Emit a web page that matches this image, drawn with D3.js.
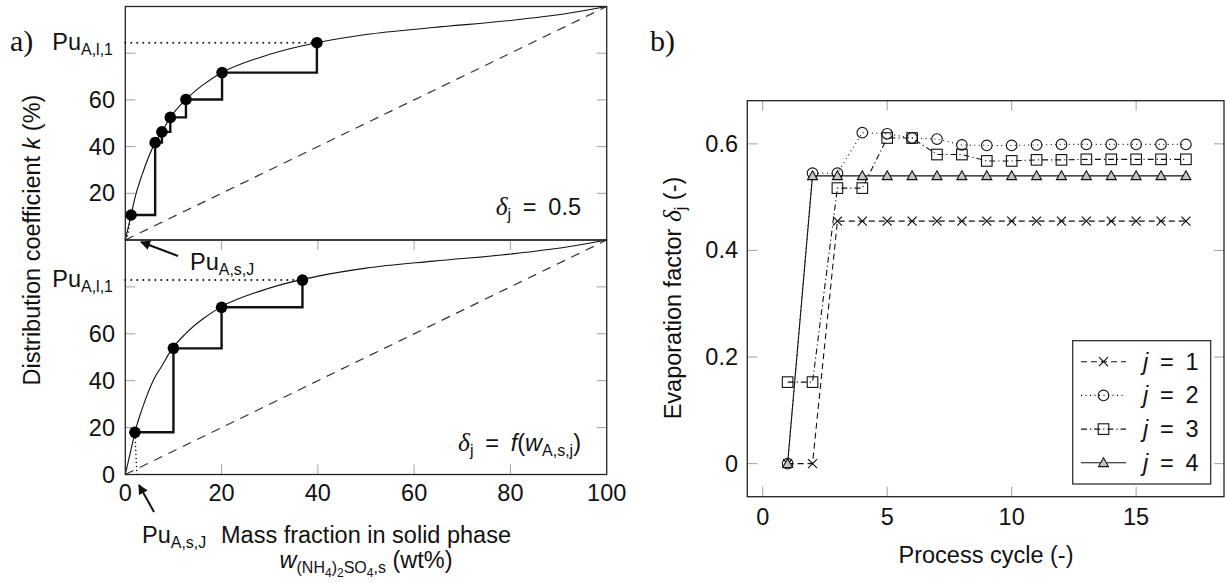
<!DOCTYPE html>
<html>
<head>
<meta charset="utf-8">
<script src="https://cdn.jsdelivr.net/npm/d3@7"></script>
<style>
  body { margin: 0; background: #fff; }
  text { font-family: "Liberation Sans", Arial, sans-serif; fill: #111; white-space: pre; }
</style>
</head>
<body>
<svg id="chart" width="1225" height="582"></svg>
<script>
// ── Data: panel a (McCabe-Thiele style stages) ────────────────────────────
const wTicks      = [0, 20, 40, 60, 80, 100];
const kTickMarks  = [20, 40, 60, 80];
const kLabelsTop  = [20, 40, 60];
const kLabelsBot  = [0, 20, 40, 60];

// equilibrium curve (solid phase wt% vs distribution coefficient %)
const eqW = [0, 1.2, 2, 3.5, 6.2, 7.6, 9.35, 12.6, 16, 20.1, 28, 36.8, 39.8, 50, 64, 80, 91.7, 100];
const eqK = [0, 10.7, 18, 28, 41.7, 46.3, 52.5, 60.2, 66.2, 71.7, 78.2, 83.2, 84.5, 88, 91, 94, 97, 100];

// stages, delta_j = 0.5
const stageHalfW = [1.2, 6.2, 7.6, 9.35, 12.6, 20.1, 39.8];
const stageHalfK = [10.7, 41.7, 46.3, 52.5, 60.2, 71.7, 84.5];
// stages, delta_j = f(w)
const stageFunW = [2.0, 10.0, 20.0, 36.8];
const stageFunK = [18.0, 53.8, 71.3, 82.9];
// Pu_A,s,J foot of the dotted line
const puSolidW = [0.3, 2.4];

// ── Data: panel b (evaporation factor per cycle) ──────────────────────────
const cycles  = [1, 2, 3, 4, 5, 6, 7, 8, 9, 10, 11, 12, 13, 14, 15, 16, 17];
const delta1  = [0, 0, 0.455, 0.455, 0.455, 0.455, 0.455, 0.455, 0.455, 0.455, 0.455, 0.455, 0.455, 0.455, 0.455, 0.455, 0.455];
const delta2  = [0, 0.545, 0.545, 0.621, 0.619, 0.611, 0.609, 0.598, 0.597, 0.597, 0.598, 0.599, 0.599, 0.599, 0.599, 0.599, 0.599];
const delta3  = [0.153, 0.153, 0.517, 0.517, 0.611, 0.611, 0.580, 0.580, 0.568, 0.568, 0.570, 0.570, 0.571, 0.571, 0.571, 0.571, 0.571];
const delta4  = [0, 0.540, 0.540, 0.540, 0.540, 0.540, 0.540, 0.540, 0.540, 0.540, 0.540, 0.540, 0.540, 0.540, 0.540, 0.540, 0.540];
const cycleTicks = [0, 5, 10, 15];
const deltaTicks = [0, 0.2, 0.4, 0.6];
const seriesNames = ['1', '2', '3', '4'];

const svg = d3.select('#chart');
const FS = 23.5, FSUB = 16;
const TICK_C = '#a0a0a0', FRAME_C = '#222';
const EQ = '\u2002=\u2002';   // math-style spacing round "="

// ── Helpers ───────────────────────────────────────────────────────────────
// segs: [text, level(0 normal,1 sub,2 subsub), style('i' italic, 'd' serif italic)]
function rich(parent, x, y, segs, anchor = 'start', rotate = null) {
  const t = parent.append('text').attr('x', x).attr('y', y).attr('text-anchor', anchor);
  if (rotate !== null) t.attr('transform', `rotate(${rotate},${x},${y})`);
  let cur = 0;
  segs.forEach(([str, lvl = 0, st = '']) => {
    const shift = [0, 5, 9][lvl];
    const size  = [FS, FSUB, 12][lvl];
    const ts = t.append('tspan').attr('dy', shift - cur).style('font-size', size + 'px').text(str);
    if (st === 'i') ts.style('font-style', 'italic');
    if (st === 'd') ts.style('font-family', '"Liberation Serif", serif').style('font-style', 'italic').style('font-size', (size + 2) + 'px');
    cur = shift;
  });
  return t;
}

svg.append('defs').append('marker')
  .attr('id', 'arrow').attr('viewBox', '0 0 10 10').attr('refX', 9).attr('refY', 5)
  .attr('markerWidth', 5).attr('markerHeight', 5).attr('orient', 'auto')
  .append('path').attr('d', 'M0,0 L10,5 L0,10 z').attr('fill', '#111');

// ── Panel a ───────────────────────────────────────────────────────────────
const xA    = d3.scaleLinear().domain([0, 100]).range([125.3, 606.7]);
const yTop  = d3.scaleLinear().domain([0, 100]).range([240, 6.5]);
const yBot  = d3.scaleLinear().domain([0, 100]).range([474.5, 240]);

function drawStagePanel(y, stW, stK, footW, xTicksOn, labels) {
  const g = svg.append('g');
  const [x0, x1] = xA.range();
  const [yb, yt] = y.range();

  // ticks
  kTickMarks.forEach(v => {
    g.append('line').attr('x1', x0).attr('x2', x0 + 10).attr('y1', y(v)).attr('y2', y(v)).attr('stroke', TICK_C);
    g.append('line').attr('x1', x1).attr('x2', x1 - 10).attr('y1', y(v)).attr('y2', y(v)).attr('stroke', TICK_C);
    if (xTicksOn) {
      g.append('line').attr('x1', xA(v)).attr('x2', xA(v)).attr('y1', yb).attr('y2', yb - 10).attr('stroke', TICK_C);
      g.append('line').attr('x1', xA(v)).attr('x2', xA(v)).attr('y1', yt).attr('y2', yt + 10).attr('stroke', TICK_C);
    }
  });
  labels.forEach(v => {
    g.append('text').attr('x', 115).attr('y', y(v) + 8).attr('text-anchor', 'end')
      .style('font-size', FS + 'px').text(v);
  });

  // diagonal
  g.append('line').attr('x1', xA(0)).attr('y1', y(0)).attr('x2', xA(100)).attr('y2', y(100))
    .attr('stroke', '#333').attr('stroke-width', 1.2).attr('stroke-dasharray', '9,7');

  // equilibrium curve
  const eq = eqW.map((w, i) => [w, eqK[i]]);
  g.append('path').attr('d', d3.line().x(d => xA(d[0])).y(d => y(d[1])).curve(d3.curveMonotoneX)(eq))
    .attr('fill', 'none').attr('stroke', '#111').attr('stroke-width', 1.1);

  // stages
  const st = stW.map((w, i) => [w, stK[i]]);
  g.append('path').attr('d', d3.line().x(d => xA(d[0])).y(d => y(d[1])).curve(d3.curveStepAfter)(st))
    .attr('fill', 'none').attr('stroke', '#111').attr('stroke-width', 2.4);

  // dotted guides
  const last = st[st.length - 1];
  g.append('line').attr('x1', xA(0)).attr('x2', xA(last[0])).attr('y1', y(last[1])).attr('y2', y(last[1]))
    .attr('stroke', '#111').attr('stroke-width', 2).attr('stroke-dasharray', '0,6').attr('stroke-linecap', 'round');
  g.append('line').attr('x1', xA(footW)).attr('y1', y(0)).attr('x2', xA(st[0][0])).attr('y2', y(st[0][1]))
    .attr('stroke', '#111').attr('stroke-width', 1.6).attr('stroke-dasharray', '0,4').attr('stroke-linecap', 'round');

  g.selectAll('circle.stage').data(st).join('circle').attr('class', 'stage')
    .attr('cx', d => xA(d[0])).attr('cy', d => y(d[1])).attr('r', 5.8).attr('fill', '#000');

  // Pu_A,l,1 label
  rich(g, 113, y(last[1]) + 7, [['Pu'], ['A,l,1', 1]], 'end');

  g.append('rect').attr('x', x0).attr('y', yt).attr('width', x1 - x0).attr('height', yb - yt)
    .attr('fill', 'none').attr('stroke', FRAME_C).attr('stroke-width', 1.3);
  return g;
}

const gTop = drawStagePanel(yTop, stageHalfW, stageHalfK, puSolidW[0], false, kLabelsTop);
const gBot = drawStagePanel(yBot, stageFunW, stageFunK, puSolidW[1], true, kLabelsBot);

rich(gTop, 581, 215, [['δ', 0, 'd'], ['j', 1], [EQ + '0.5']], 'end');
rich(gBot, 581, 451, [['δ', 0, 'd'], ['j', 1], [EQ], ['f', 0, 'i'], ['('], ['w', 0, 'i'], ['A,s,j', 1], [')']], 'end');

// x tick labels
wTicks.forEach(v => {
  svg.append('text').attr('x', xA(v)).attr('y', 501).attr('text-anchor', 'middle')
    .style('font-size', FS + 'px').text(v);
});

// Pu_A,s,J arrows
svg.append('line').attr('x1', 178).attr('y1', 256).attr('x2', 141).attr('y2', 242)
  .attr('stroke', '#111').attr('stroke-width', 2).attr('marker-end', 'url(#arrow)');
rich(svg, 190, 270, [['Pu'], ['A,s,J', 1]]);
svg.append('line').attr('x1', 154).attr('y1', 512).attr('x2', 139).attr('y2', 485)
  .attr('stroke', '#111').attr('stroke-width', 2).attr('marker-end', 'url(#arrow)');
rich(svg, 142, 543, [['Pu'], ['A,s,J', 1]]);

// axis titles
svg.append('text').attr('x', 366).attr('y', 543).attr('text-anchor', 'middle')
  .style('font-size', FS + 'px').text('Mass fraction in solid phase');
rich(svg, 366, 568, [['w', 0, 'i'], ['(NH', 1], ['4', 2], [')', 1], ['2', 2], ['SO', 1], ['4', 2], [',s', 1], [' (wt%)']], 'middle');
rich(svg, 40, 240, [['Distribution coefficient '], ['k', 0, 'i'], [' (%)']], 'middle', -90);

svg.append('text').attr('x', 10).attr('y', 51).style('font-family', '"Liberation Serif", serif')
  .style('font-size', '30px').text('a)');

// ── Panel b ───────────────────────────────────────────────────────────────
const xB = d3.scaleLinear().domain([-0.62, 18.53]).range([747.3, 1224]);
const yB = d3.scaleLinear().domain([-0.062, 0.681]).range([496.7, 100.7]);
const gB = svg.append('g');
const [bx0, bx1] = xB.range();
const [by0, by1] = yB.range();

cycleTicks.forEach(v => {
  gB.append('line').attr('x1', xB(v)).attr('x2', xB(v)).attr('y1', by0).attr('y2', by0 - 10).attr('stroke', TICK_C);
  gB.append('line').attr('x1', xB(v)).attr('x2', xB(v)).attr('y1', by1).attr('y2', by1 + 10).attr('stroke', TICK_C);
  gB.append('text').attr('x', xB(v)).attr('y', 525).attr('text-anchor', 'middle')
    .style('font-size', FS + 'px').text(v);
});
deltaTicks.forEach(v => {
  gB.append('line').attr('x1', bx0).attr('x2', bx0 + 10).attr('y1', yB(v)).attr('y2', yB(v)).attr('stroke', TICK_C);
  gB.append('line').attr('x1', bx1).attr('x2', bx1 - 10).attr('y1', yB(v)).attr('y2', yB(v)).attr('stroke', TICK_C);
  gB.append('text').attr('x', 738).attr('y', yB(v) + 8).attr('text-anchor', 'end')
    .style('font-size', FS + 'px').text(v === 0 ? '0' : d3.format('.1f')(v));
});

const styles = [
  { dash: '6,4',          marker: 'cross' },
  { dash: '1,3.5',        marker: 'circle' },
  { dash: '6,3,1.2,3',    marker: 'square' },
  { dash: null,           marker: 'triangle' },
];

function drawMarker(g, type, cx, cy) {
  if (type === 'cross') {
    g.append('path').attr('d', `M${cx-4.5},${cy-4.5}L${cx+4.5},${cy+4.5}M${cx-4.5},${cy+4.5}L${cx+4.5},${cy-4.5}`)
      .attr('stroke', '#111').attr('stroke-width', 1.2);
  } else if (type === 'circle') {
    g.append('circle').attr('cx', cx).attr('cy', cy).attr('r', 5.3)
      .attr('fill', 'none').attr('stroke', '#111').attr('stroke-width', 1.1);
  } else if (type === 'square') {
    g.append('rect').attr('x', cx - 5.3).attr('y', cy - 5.3).attr('width', 10.6).attr('height', 10.6)
      .attr('fill', 'none').attr('stroke', '#111').attr('stroke-width', 1.1);
  } else {
    g.append('path').attr('d', `M${cx},${cy-5}L${cx+5},${cy+3.8}L${cx-5},${cy+3.8}Z`)
      .attr('fill', '#c4c4c4').attr('stroke', '#111').attr('stroke-width', 1.1);
  }
}

[delta1, delta2, delta3, delta4].forEach((vals, si) => {
  const pts = cycles.map((c, i) => [c, vals[i]]);
  const p = gB.append('path').attr('d', d3.line().x(d => xB(d[0])).y(d => yB(d[1]))(pts))
    .attr('fill', 'none').attr('stroke', '#111').attr('stroke-width', 1.1);
  if (styles[si].dash) p.attr('stroke-dasharray', styles[si].dash);
});
[delta1, delta2, delta3, delta4].forEach((vals, si) => {
  cycles.forEach((c, i) => drawMarker(gB, styles[si].marker, xB(c), yB(vals[i])));
});

gB.append('rect').attr('x', bx0).attr('y', by1).attr('width', bx1 - bx0).attr('height', by0 - by1)
  .attr('fill', 'none').attr('stroke', FRAME_C).attr('stroke-width', 1.3);

// legend
const lg = gB.append('g');
lg.append('rect').attr('x', 1072.7).attr('y', 340.7).attr('width', 138).attr('height', 143.3)
  .attr('fill', '#fff').attr('stroke', FRAME_C).attr('stroke-width', 1.2);
seriesNames.forEach((name, i) => {
  const ly = 361.7 + i * 33.7;
  const ln = lg.append('line').attr('x1', 1081).attr('x2', 1126).attr('y1', ly).attr('y2', ly)
    .attr('stroke', '#111').attr('stroke-width', 1.1);
  if (styles[i].dash) ln.attr('stroke-dasharray', styles[i].dash);
  drawMarker(lg, styles[i].marker, 1103.5, ly);
  rich(lg, 1143, ly + 8, [['j', 0, 'i'], [EQ + name]]);
});

rich(svg, 986, 563, [['Process cycle (-)']], 'middle');
rich(svg, 681, 298, [['Evaporation factor '], ['δ', 0, 'd'], ['j', 1], [' (-)', 0]], 'middle', -90);

svg.append('text').attr('x', 650).attr('y', 51).style('font-family', '"Liberation Serif", serif')
  .style('font-size', '30px').text('b)');
</script>
</body>
</html>
